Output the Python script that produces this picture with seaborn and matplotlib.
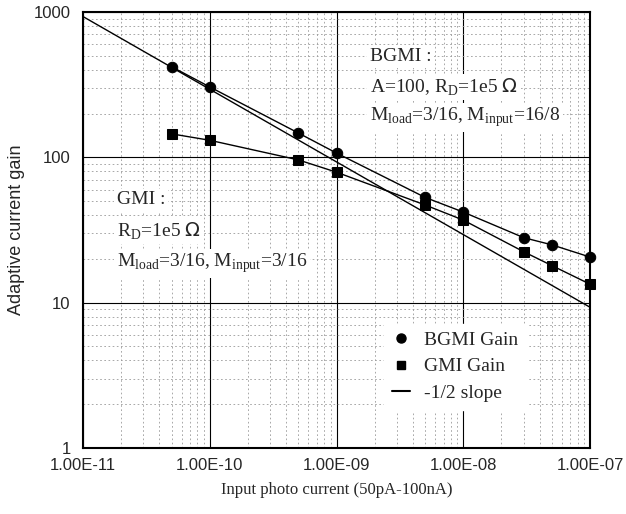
import numpy as np
import pandas as pd
import seaborn as sns
import matplotlib.pyplot as plt
from matplotlib.lines import Line2D
from matplotlib.ticker import FuncFormatter, LogLocator

# data
bgmi_x = [5e-11, 1e-10, 5e-10, 1e-9, 5e-9, 1e-8, 3e-8, 5e-8, 1e-7]
bgmi_gain = [420, 305, 147, 107, 53, 42, 28, 25, 20.6]
gmi_x = [5e-11, 1e-10, 5e-10, 1e-9, 5e-9, 1e-8, 3e-8, 5e-8, 1e-7]
gmi_gain = [145, 131, 96, 79, 47, 37, 22.4, 18, 13.4]
slope_x = [1e-11, 1e-7]
slope_y = [930, 9.3]
x_ticks = [1e-11, 1e-10, 1e-9, 1e-8, 1e-7]
y_ticks = [1, 10, 100, 1000]

df_bgmi = pd.DataFrame({'current': bgmi_x, 'gain': bgmi_gain})
df_gmi = pd.DataFrame({'current': gmi_x, 'gain': gmi_gain})
df_slope = pd.DataFrame({'current': slope_x, 'gain': slope_y})

sns.set_theme(style='white')
plt.rcParams['font.family'] = ['Liberation Serif', 'DejaVu Serif']
SANS = ['Liberation Sans', 'DejaVu Sans']

fig = plt.figure(figsize=(6.26, 5.14), dpi=100)
ax = fig.add_axes([0.1326, 0.1284, 0.8099, 0.8483])

sns.lineplot(data=df_slope, x='current', y='gain', ax=ax, color='black', linewidth=1)
sns.lineplot(data=df_bgmi, x='current', y='gain', ax=ax, color='black', linewidth=1,
             marker='o', markersize=7.5, markeredgecolor='black', clip_on=False, zorder=5)
sns.lineplot(data=df_gmi, x='current', y='gain', ax=ax, color='black', linewidth=1,
             marker='s', markersize=7.5, markeredgecolor='black', clip_on=False, zorder=5)

ax.set_xscale('log')
ax.set_yscale('log')
ax.set_xticks(x_ticks)
ax.set_yticks(y_ticks)
ax.set_xlim(1e-11, 1e-7)
ax.set_ylim(1, 1000)

ax.xaxis.set_minor_locator(LogLocator(base=10, subs=np.arange(2, 10)))
ax.yaxis.set_minor_locator(LogLocator(base=10, subs=np.arange(2, 10)))
ax.xaxis.set_major_formatter(FuncFormatter(lambda v, p: f'{v:.2E}'))
ax.yaxis.set_major_formatter(FuncFormatter(lambda v, p: f'{v:g}'))
ax.grid(True, which='major', color='black', linewidth=0.8)
ax.grid(True, which='minor', color='#9a9a9a', linewidth=0.6, linestyle=(0, (2, 3)))
ax.tick_params(which='both', direction='in', color='black')
ax.tick_params(which='major', length=5, width=1.2)
ax.tick_params(which='minor', length=3, width=1)
ax.tick_params(axis='y', which='major', pad=9)
ax.tick_params(axis='x', which='major', pad=7)
for lab in ax.get_xticklabels() + ax.get_yticklabels():
    lab.set_family(SANS)
    lab.set_fontsize(12)
for s in ax.spines.values():
    s.set_color('black')
    s.set_linewidth(1.5)

ax.set_xlabel('Input photo current (50pA-100nA)', fontsize=12, labelpad=7)
ax.set_ylabel('Adaptive current gain', fontsize=13, labelpad=6, family=SANS)

box = dict(facecolor='white', edgecolor='none', pad=2)
kw = dict(transform=ax.transAxes, fontsize=14, va='center', bbox=box)
ax.text(0.566, 0.897, 'BGMI :', **kw)
ax.text(0.566, 0.828, r'A=100, R$_\mathregular{D}$=1e5 $\Omega$', **kw)
ax.text(0.566, 0.759, r'M$_\mathregular{load}$=3/16, M$_\mathregular{input}$=16/8', **kw)
ax.text(0.067, 0.569, 'GMI :', **kw)
ax.text(0.067, 0.498, r'R$_\mathregular{D}$=1e5 $\Omega$', **kw)
ax.text(0.067, 0.424, r'M$_\mathregular{load}$=3/16, M$_\mathregular{input}$=3/16', **kw)

handles = [
    Line2D([], [], linestyle='none', marker='o', color='black', markersize=6.5),
    Line2D([], [], linestyle='none', marker='s', color='black', markersize=6),
    Line2D([], [], color='black', linewidth=1.5),
]
leg = ax.legend(handles, ['BGMI Gain', 'GMI Gain', '-1/2 slope'], loc='upper left',
                bbox_to_anchor=(0.594, 0.285), borderaxespad=0, frameon=True, fontsize=14,
                handlelength=0.95, handletextpad=0.7, labelspacing=0.45, borderpad=0.4)
leg.get_frame().set_edgecolor('white')
leg.get_frame().set_facecolor('white')
leg.get_frame().set_alpha(1)
leg.get_frame().set_boxstyle('square', pad=0)

fig.savefig('out.png', dpi=100)
